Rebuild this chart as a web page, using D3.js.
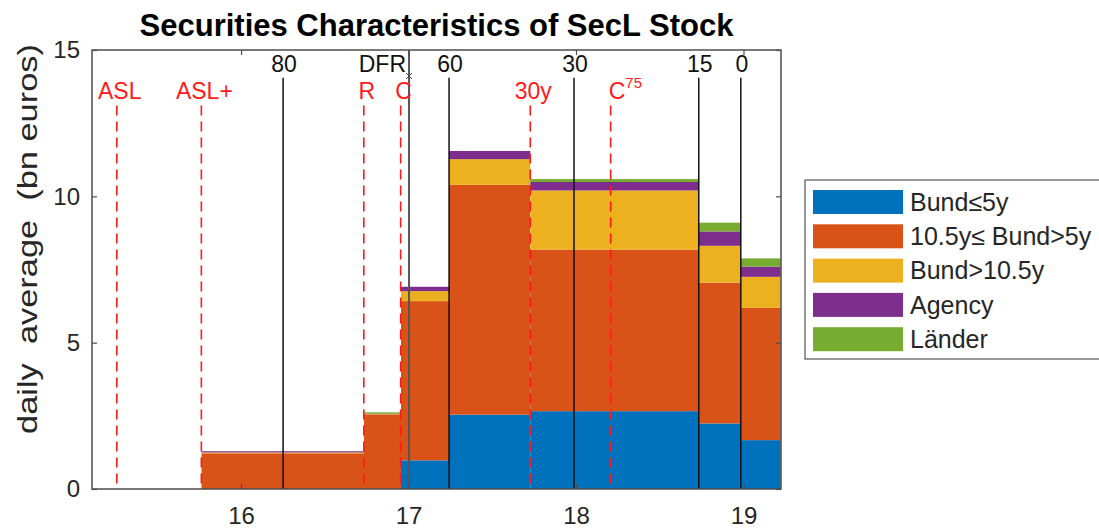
<!DOCTYPE html>
<html>
<head>
<meta charset="utf-8">
<script src="https://cdn.jsdelivr.net/npm/d3@7"></script>
<style>
  html, body { margin: 0; padding: 0; background: #fff; }
  svg { display: block; font-family: "Liberation Sans", Arial, Helvetica, sans-serif; }
</style>
</head>
<body>
<svg id="chart" width="1099" height="529"></svg>
<script>
// ---------- data ----------
const seriesNames = ["Bund\u22645y", "10.5y\u2264 Bund>5y", "Bund>10.5y", "Agency", "L\u00e4nder"];
const seriesColors = ["#0072BD", "#D95319", "#EDB120", "#7E2F8E", "#77AC30"];
// period boundaries (x in years, '16' = 2016)
const barEdges = [15.764, 16.734, 16.955, 17.242, 17.727, 18.733, 18.984, 19.222];
const bundShort = [0.00, 0.00, 0.98, 2.54, 2.66, 2.24, 1.67];
const bundMid   = [1.22, 2.55, 5.44, 7.85, 5.52, 4.81, 4.52];
const bundLong  = [0.03, 0.01, 0.34, 0.88, 2.02, 1.26, 1.06];
const agency    = [0.04, 0.01, 0.15, 0.28, 0.29, 0.49, 0.35];
const laender   = [0.00, 0.05, 0.00, 0.00, 0.10, 0.30, 0.28];
// event markers
const redLabels = ["ASL", "ASL+", "R", "C", "30y", "C75"];
const redX      = [15.258, 15.763, 16.733, 16.953, 17.727, 18.207];
const blackLabels = ["80", "60", "30", "15", "0"];
const blackX      = [16.251, 17.242, 17.988, 18.733, 18.984];
const dfrLabel = "DFR";
const dfrX = 17.003;
const xTicks = [16, 17, 18, 19];
const yTicks = [0, 5, 10, 15];
const xDomain = [15.110, 19.224];
const yDomain = [0, 15];

// ---------- layout ----------
const svg = d3.select("#chart");
const mLeft = 92, mRight = 781, mTop = 50, mBottom = 489;
const x = d3.scaleLinear().domain(xDomain).range([mLeft, mRight]);
const y = d3.scaleLinear().domain(yDomain).range([mBottom, mTop]);
const textColor = "#262626";
const axisColor = "#4d4d4d";

// stacked bars
const seriesValues = [bundShort, bundMid, bundLong, agency, laender];
const rows = barEdges.slice(0, -1).map((e, i) => {
  const r = { x0: e, x1: barEdges[i + 1] };
  seriesNames.forEach((n, k) => r[n] = seriesValues[k][i]);
  return r;
});
const stack = d3.stack().keys(seriesNames)(rows);
const gBars = svg.append("g");
stack.forEach((layer, k) => {
  gBars.selectAll(null).data(layer).join("rect")
    .attr("x", d => x(d.data.x0))
    .attr("width", d => x(d.data.x1) - x(d.data.x0))
    .attr("y", d => y(d[1]))
    .attr("height", d => Math.max(0, y(d[0]) - y(d[1])))
    .attr("fill", seriesColors[k]);
});

// red dashed lines
const redTop = 13.1, blackTop = 14.05;
svg.append("g").selectAll("line").data(redX).join("line")
  .attr("x1", d => x(d)).attr("x2", d => x(d))
  .attr("y1", y(redTop)).attr("y2", y(0))
  .attr("stroke", "#ff1a1a").attr("stroke-width", 1.6)
  .attr("stroke-dasharray", "10,6");

// black solid lines
svg.append("g").selectAll("line").data(blackX).join("line")
  .attr("x1", d => x(d)).attr("x2", d => x(d))
  .attr("y1", y(blackTop)).attr("y2", y(0))
  .attr("stroke", "#111").attr("stroke-width", 1.5);

// DFR line
svg.append("line")
  .attr("x1", x(dfrX)).attr("x2", x(dfrX))
  .attr("y1", y(15)).attr("y2", y(0))
  .attr("stroke", "#555").attr("stroke-width", 2);
// small x marker
const mx = x(dfrX), my = 76;
svg.append("path")
  .attr("d", `M${mx-3},${my-3}L${mx+3},${my+3}M${mx-3},${my+3}L${mx+3},${my-3}`)
  .attr("stroke", "#444").attr("stroke-width", 1);

// labels
const gLab = svg.append("g").attr("font-size", 23);
gLab.selectAll(null).data(blackLabels).join("text")
  .attr("x", (d, i) => x(blackX[i]) + 1)
  .attr("y", 72)
  .attr("text-anchor", "middle")
  .attr("fill", "#111")
  .text(d => d);
gLab.append("text")
  .attr("x", x(dfrX) - 3).attr("y", 72)
  .attr("text-anchor", "end").attr("fill", "#111")
  .text(dfrLabel);
redLabels.forEach((lab, i) => {
  if (lab === "C75") {
    const t = gLab.append("text")
      .attr("x", x(redX[i]) - 2).attr("y", 99)
      .attr("text-anchor", "start").attr("fill", "#ff1a1a");
    t.append("tspan").text("C");
    t.append("tspan").attr("dy", -11).attr("font-size", 15).text("75");
  } else {
    gLab.append("text")
      .attr("x", x(redX[i]) + 3).attr("y", 99)
      .attr("text-anchor", "middle").attr("fill", "#ff1a1a")
      .text(lab);
  }
});

// axes
const tickLen = 5;
const gx = svg.append("g").attr("transform", `translate(0,${mBottom})`)
  .call(d3.axisBottom(x).tickValues(xTicks).tickFormat(d3.format("d")).tickSizeInner(-tickLen).tickSizeOuter(0).tickPadding(18));
const gxt = svg.append("g").attr("transform", `translate(0,${mTop})`)
  .call(d3.axisTop(x).tickValues(xTicks).tickFormat("").tickSizeInner(-tickLen).tickSizeOuter(0));
const gy = svg.append("g").attr("transform", `translate(${mLeft},0)`)
  .call(d3.axisLeft(y).tickValues(yTicks).tickSizeInner(-tickLen).tickSizeOuter(0).tickPadding(12));
const gyr = svg.append("g").attr("transform", `translate(${mRight},0)`)
  .call(d3.axisRight(y).tickValues(yTicks).tickFormat("").tickSizeInner(-tickLen).tickSizeOuter(0));
[gx, gxt, gy, gyr].forEach(g => {
  g.select(".domain").remove();
  g.selectAll(".tick line").attr("stroke", axisColor).attr("stroke-width", 1.2);
  g.selectAll(".tick text").attr("fill", textColor).attr("font-size", 24)
    .attr("font-family", "Liberation Sans, Arial, sans-serif");
});
// box
svg.append("rect")
  .attr("x", mLeft).attr("y", mTop).attr("width", mRight - mLeft).attr("height", mBottom - mTop)
  .attr("fill", "none").attr("stroke", axisColor).attr("stroke-width", 1.5);

// title
svg.append("text")
  .attr("x", (mLeft + mRight) / 2).attr("y", 36)
  .attr("text-anchor", "middle").attr("font-weight", "bold").attr("font-size", 31)
  .attr("fill", "#000")
  .text("Securities Characteristics of SecL Stock");

// y label (stretched along its length to match the reference)
const yl = svg.append("text")
  .attr("text-anchor", "middle").attr("font-size", 27).attr("fill", textColor)
  .attr("xml:space", "preserve").style("white-space", "pre")
  .text("daily  average  (bn euros)");
const natural = yl.node().getComputedTextLength() || 320;
const sx = 390 / natural;
yl.attr("transform", `translate(37,239) rotate(-90) scale(${sx},1)`);

// legend
const lg = svg.append("g");
lg.append("rect").attr("x", 805).attr("y", 180).attr("width", 310).attr("height", 179)
  .attr("fill", "#fff").attr("stroke", "#555").attr("stroke-width", 1.2);
seriesNames.forEach((n, k) => {
  const yy = 190 + k * 34.3;
  lg.append("rect").attr("x", 813).attr("y", yy).attr("width", 90).attr("height", 24)
    .attr("fill", seriesColors[k]);
  lg.append("text").attr("x", 910).attr("y", yy + 12).attr("dy", "0.35em")
    .attr("font-size", 25).attr("fill", textColor).text(n);
});
</script>
</body>
</html>
